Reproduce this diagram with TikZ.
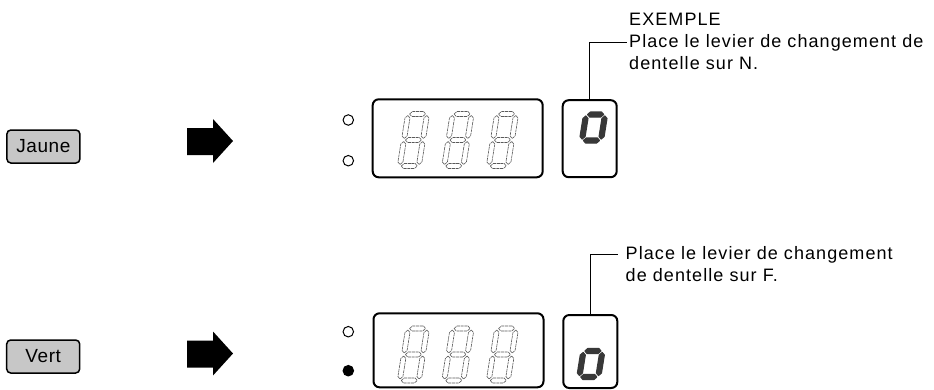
\documentclass[tikz,border=0pt]{standalone}
\usepackage{fontspec}
\setmainfont{Liberation Sans}[LetterSpace=6]
\newfontfamily\btnfont{Liberation Sans}[LetterSpace=3]
\newcommand\hsg[4]{\path[#1] (#3,#2) -- (#3+2.5,#2-2.5) -- (#4-2.5,#2-2.5) -- (#4,#2) -- (#4-2.5,#2+2.5) -- (#3+2.5,#2+2.5) -- cycle;}
\newcommand\vsg[4]{\path[#1] (#2,#3) -- (#2+2.5,#3+2.5) -- (#2+2.5,#4-2.5) -- (#2,#4) -- (#2-2.5,#4-2.5) -- (#2-2.5,#3+2.5) -- cycle;}
\newcommand\segdigit[9]{\begin{scope}[shift={(#1,#2)},xslant=0.16]
 \hsg{#3}{2.5}{4}{20}
 \vsg{#4}{21.5}{4}{27}
 \vsg{#5}{21.5}{30}{53}
 \hsg{#6}{54.5}{4}{20}
 \vsg{#7}{2.5}{30}{53}
 \vsg{#8}{2.5}{4}{27}
 \hsg{#9}{28.5}{4}{20}
\end{scope}}
\tikzset{
  segoff/.style={draw=black!65, line width=0.6pt, line join=round, dash pattern=on 3pt off 0.7pt},
  segon/.style={fill=black!78, draw=black!78, line width=1.2pt, line join=round},
  segnone/.style={},
  button/.style={draw, line width=1.5pt, rounded corners=4pt, fill=black!22, minimum width=73pt, minimum height=33pt, inner sep=0pt, font=\btnfont\fontsize{19}{21}\selectfont},
  dispbox/.style={draw, line width=2pt, rounded corners=6pt, inner sep=0pt, outer sep=0pt},
  lamp/.style={draw, circle, line width=1pt, minimum size=10.5pt, inner sep=0pt},
  lamplit/.style={lamp, fill=black},
  bigarrow/.style={fill=black},
  label/.style={anchor=base west, inner sep=0pt, font=\fontsize{18}{22}\selectfont},
  leader/.style={line width=1pt}
}
\begin{document}
\begin{tikzpicture}[x=1pt,y=-1pt]
\useasboundingbox (0,0) rectangle (934,389);
% buttons
\node[button] (jaune) at (43.4,146.5) {Jaune};
\node[button] (vert) at (43.2,356.5) {Vert};
% arrows
\fill[bigarrow] (187,128) -- (213,128) -- (213,119) -- (233,141) -- (213,163) -- (213,155) -- (187,155) -- cycle;
\fill[bigarrow] (187,340.5) -- (213,340.5) -- (213,331.5) -- (233,353.5) -- (213,375.5) -- (213,367.5) -- (187,367.5) -- cycle;
% lamps
\node[lamp] (l1a) at (348.3,120) {};
\node[lamp] (l1b) at (348.3,160.7) {};
\node[lamp] (l2a) at (348.3,331.7) {};
\node[lamplit] (l2b) at (348.3,370.7) {};
% display boxes
\node[dispbox, minimum width=170pt, minimum height=78pt] (disp1) at (457.7,138.3) {};
\node[dispbox, minimum width=170pt, minimum height=74pt] (disp2) at (458.5,350.3) {};
\node[dispbox, minimum width=54pt, minimum height=77pt] (sbox1) at (589.7,138.7) {};
\node[dispbox, minimum width=54pt, minimum height=73pt] (sbox2) at (590.3,351.5) {};
% digits top
\segdigit{406}{111.5}{segoff}{segoff}{segoff}{segoff}{segoff}{segoff}{segoff}
\segdigit{450.5}{111.5}{segoff}{segoff}{segoff}{segoff}{segoff}{segoff}{segoff}
\segdigit{495}{111.5}{segoff}{segoff}{segoff}{segoff}{segoff}{segoff}{segoff}
% digits bottom
\segdigit{406}{326}{segoff}{segoff}{segoff}{segoff}{segoff}{segoff}{segoff}
\segdigit{450.5}{326}{segoff}{segoff}{segoff}{segoff}{segoff}{segoff}{segoff}
\segdigit{495}{326}{segoff}{segoff}{segoff}{segoff}{segoff}{segoff}{segoff}
% small digits
\segdigit{584}{112}{segon}{segon}{segnone}{segnone}{segnone}{segon}{segon}
\segdigit{585.5}{322.5}{segnone}{segnone}{segon}{segon}{segon}{segnone}{segon}
% texts
\node[label] (t1) at (629,25) {EXEMPLE};
\node[label] (t2) at (629,47.7) {Place le levier de changement de};
\node[label] (t3) at (629,69.5) {dentelle sur N.};
\node[label] (t4) at (625.5,259) {Place le levier de changement};
\node[label] (t5) at (625.5,281.7) {de dentelle sur F.};
% leaders
\coordinate (lead1) at (627,42);
\coordinate (lead2) at (618,254);
\draw[leader] (sbox1.north) |- (lead1);
\draw[leader] (sbox2.north) |- (lead2);
\end{tikzpicture}
\end{document}
